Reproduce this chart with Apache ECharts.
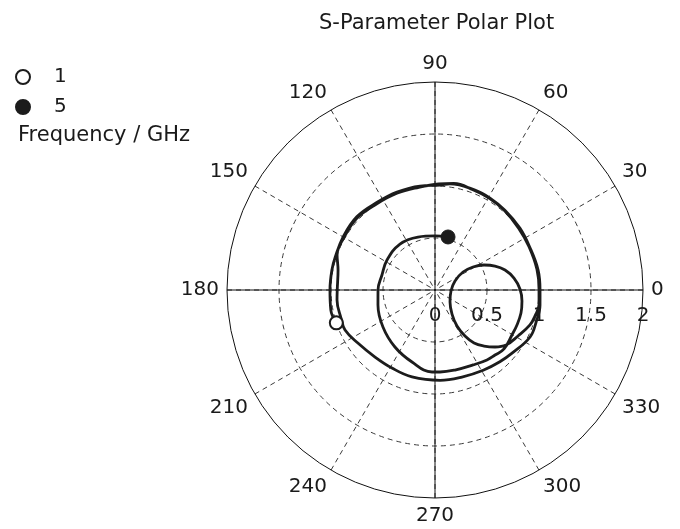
<!DOCTYPE html>
<html><head><meta charset="utf-8">
<script src="https://cdn.jsdelivr.net/npm/echarts@6/dist/echarts.min.js"></script>
<style>html,body{margin:0;padding:0;background:#fff}#c{width:680px;height:529px}</style>
</head><body><div id="c"></div>
<script>
// ---- data: [radius, angle in degrees] ----
const lap1 = [[1.00,198.4],[1.02,190.9],[1.01,180],[1.01,169.0],[1.01,161.7],[1.02,150.1],[1.03,136.9],[1.01,123.4],[1.01,111.2],[1.01,98.2],[1.01,87.3],[1.03,82.0],[1.035,68.2],[1.03,59.1],[1.02,48.8],[1.01,36.1],[1.00,24.4],[1.01,11.0],[1.01,0],[1.02,351.9],[1.02,342.4],[1.02,333.7],[0.96,321.1],[0.93,312.1],[0.90,301],[0.876,287.2],[0.87,273.2],[0.865,255.2],[0.857,241.1],[0.865,228.2],[0.90,214.5],[0.947,204.0],[0.943,196.6]];
const lap2 = [[0.947,185.8],[0.94,180],[0.952,168.3],[1.0,160.3],[1.01,150.5],[1.02,137.5],[1.0,124],[1.0,111.5],[1.0,99],[1.02,88],[1.04,80],[1.03,69],[1.025,59.5],[1.015,49],[1.0,36.5],[0.995,24.7],[1.0,11.5],[1.0,0.5],[1.01,352],[0.993,345.4],[0.973,339.8],[0.912,331.0]];
const resonanceLoop = [[0.864,322.2],[0.796,316.5],[0.716,311.2],[0.633,306.4],[0.528,303.1],[0.406,301.4],[0.283,305.3],[0.185,321.3],[0.154,356.4],[0.211,24.2],[0.32,32.7],[0.427,31.2],[0.529,27.0],[0.621,21.8],[0.70,15.9],[0.768,8.6],[0.817,0.7],[0.843,352.8],[0.856,345.0],[0.857,336.9],[0.857,329.7]];
const loopExit = [[0.873,319.5],[0.851,312.7],[0.838,306.6],[0.808,296.9],[0.793,284.0],[0.79,273.5]];
const innerTurn = [[0.789,267.9],[0.727,252.3],[0.67,234.9],[0.614,215.4],[0.567,194.7],[0.548,180],[0.53,164.2],[0.544,148.0],[0.556,127.3],[0.535,107.8],[0.52,90],[0.525,76.2]];
const startPoint = [[1.00,198.4]];   // 1 GHz
const endPoint = [[0.525,76.2]];     // 5 GHz
const legendNames = ['1','5'];
const angleRange = [0,360], angleStep = 30, axisStep = 90;
const radiusRange = [0,2], radiusStep = 0.5;

const trace = lap1.concat(lap2, resonanceLoop, loopExit, innerTurn);
const FONT = 'DejaVu Sans', INK = '#1a1a1a';
const chart = echarts.init(document.getElementById('c'), null, {renderer:'canvas'});
const polarBox = {center:[435,290], radius:208};
chart.setOption({
  animation:false,
  textStyle:{fontFamily:FONT, color:INK},
  title:[
    {text:'S-Parameter Polar Plot', left:319, top:13, padding:0,
     textStyle:{fontFamily:FONT, fontSize:21, fontWeight:'normal', color:INK}},
    {text:'Frequency / GHz', left:18, top:125, padding:0,
     textStyle:{fontFamily:FONT, fontSize:21, fontWeight:'normal', color:INK}}
  ],
  legend:{data:legendNames, orient:'vertical', left:15, top:67, padding:0,
    itemWidth:14, itemHeight:14, itemGap:10, symbolKeepAspect:true,
    textStyle:{fontFamily:FONT, fontSize:20, lineHeight:20, color:INK, padding:[0,0,0,19]}},
  polar:[polarBox, Object.assign({}, polarBox)],
  angleAxis:[
    {polarIndex:0, type:'value', min:angleRange[0], max:angleRange[1], interval:angleStep,
     startAngle:0, clockwise:false,
     axisLine:{show:true, lineStyle:{color:'#111', width:1}},
     axisTick:{show:false},
     axisLabel:{show:true, margin:8, fontFamily:FONT, fontSize:20, color:INK},
     splitLine:{show:true, lineStyle:{color:'#3a3a3a', width:1, type:[5,4]}}},
    {polarIndex:1, type:'value', min:angleRange[0], max:angleRange[1], interval:axisStep,
     startAngle:0, clockwise:false,
     axisLine:{show:false}, axisTick:{show:false}, axisLabel:{show:false},
     splitLine:{show:true, lineStyle:{color:'#111', width:1, type:'solid'}}}
  ],
  radiusAxis:[
    {polarIndex:0, type:'value', min:radiusRange[0], max:radiusRange[1], interval:radiusStep,
     axisLine:{show:false}, axisTick:{show:false},
     axisLabel:{show:true, margin:-26, verticalAlign:'middle', fontFamily:FONT, fontSize:20, color:INK},
     splitLine:{show:true, lineStyle:{color:['#3a3a3a','#3a3a3a','#3a3a3a','#3a3a3a','transparent'], width:1, type:[5,4]}}},
    {polarIndex:1, type:'value', min:radiusRange[0], max:radiusRange[1], interval:radiusStep,
     axisLine:{show:false}, axisTick:{show:false}, axisLabel:{show:false}, splitLine:{show:false}}
  ],
  series:[
    {name:'trace', type:'line', coordinateSystem:'polar', polarIndex:0, data:trace,
     showSymbol:false, smooth:0.4, lineStyle:{color:'#1c1c1c', width:2.8}, z:3},
    {name:'1', type:'scatter', coordinateSystem:'polar', polarIndex:0, data:startPoint,
     symbol:'circle', symbolSize:13, itemStyle:{color:'#fff', opacity:1, borderColor:'#1c1c1c', borderWidth:2}, z:4},
    {name:'5', type:'scatter', coordinateSystem:'polar', polarIndex:0, data:endPoint,
     symbol:'circle', symbolSize:14, itemStyle:{color:'#1c1c1c', opacity:1, borderColor:'#1c1c1c', borderWidth:1}, z:4}
  ]
});
</script></body></html>
